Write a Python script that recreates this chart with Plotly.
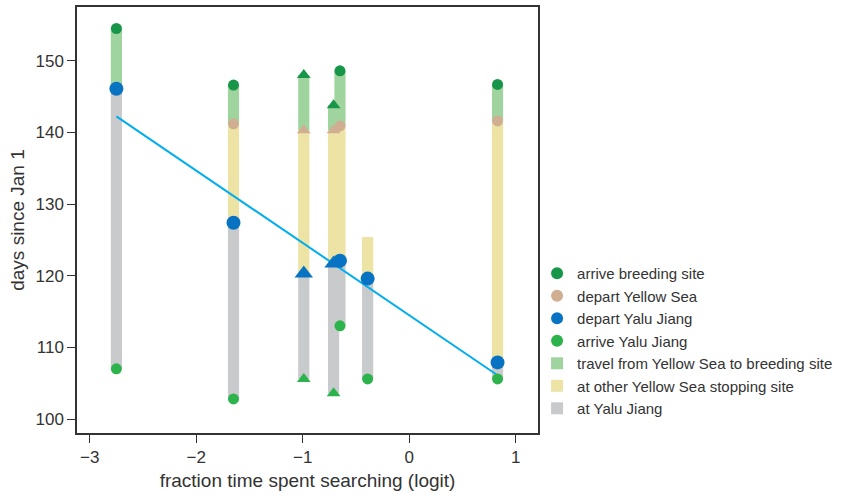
import numpy as np
import plotly.graph_objects as go

# Data
x = [-2.75, -1.65, -0.99, -0.71, -0.65, -0.39, 0.83]
symbols = ["circle", "circle", "triangle-up", "triangle-up", "circle", "circle", "circle"]
arrive_yalu = [107.0, 102.8, 105.6, 103.6, 113.0, 105.6, 105.6]
depart_yalu = [146.1, 127.4, 120.3, 121.7, 122.1, 119.6, 107.9]
depart_ys = [None, 141.2, 140.3, 140.3, 140.9, None, 141.6]
yellow_sea_end = [None, 141.2, 140.3, 140.3, 140.9, 125.4, 141.6]
arrive_breed = [154.5, 146.6, 148.0, 143.8, 148.6, None, 146.7]

C_BREED = "#17964A"
C_DEPYS = "#CFAE92"
C_DEPYALU = "#0873C2"
C_ARRYALU = "#2CB34C"
C_TRAVEL = "#A0D49F"
C_YSEA = "#EDE3A4"
C_YALU = "#C9CACC"
C_LINE = "#00AEEF"
FONT = "Liberation Sans, Arial, sans-serif"
TXT = "#333333"

fig = go.Figure()
W = 0.105

# bars
gx, gb, gh = [], [], []
for xi, a, d in zip(x, arrive_yalu, depart_yalu):
    gx.append(xi); gb.append(a); gh.append(d - a)
yx, yb, yh = [], [], []
for xi, d, e in zip(x, depart_yalu, yellow_sea_end):
    if e is not None:
        yx.append(xi); yb.append(d); yh.append(e - d)
tx, tb, th = [], [], []
for xi, d, s, b in zip(x, depart_yalu, depart_ys, arrive_breed):
    if b is not None:
        base = s if s is not None else d
        tx.append(xi); tb.append(base); th.append(b - base)

def pts(vals):
    xs, ys, ss = [], [], []
    for xi, v, s in zip(x, vals, symbols):
        if v is not None:
            xs.append(xi); ys.append(v); ss.append(s)
    return xs, ys, ss

fig.add_trace(go.Bar(x=tx, y=th, base=tb, width=W, marker=dict(color=C_TRAVEL, line=dict(width=0)),
                     name="travel from Yellow Sea to breeding site", legendrank=5, opacity=1))
fig.add_trace(go.Bar(x=yx, y=yh, base=yb, width=W, marker=dict(color=C_YSEA, line=dict(width=0)),
                     name="at other Yellow Sea stopping site", legendrank=6, opacity=1))
fig.add_trace(go.Bar(x=gx, y=gh, base=gb, width=W, marker=dict(color=C_YALU, line=dict(width=0)),
                     name="at Yalu Jiang", legendrank=7, opacity=1))

# regression line of departure from Yalu Jiang on search fraction
slope, icpt = np.polyfit(x, depart_yalu, 1)
lx = [min(x), max(x)]
fig.add_trace(go.Scatter(x=lx, y=[slope * v + icpt for v in lx], mode="lines",
                         line=dict(color=C_LINE, width=2), showlegend=False, hoverinfo="skip"))

traces = [
    (arrive_breed, "arrive breeding site", C_BREED, 11, 12, 1),
    (depart_ys, "depart Yellow Sea", C_DEPYS, 11, 12, 2),
    (depart_yalu, "depart Yalu Jiang", C_DEPYALU, 14, 16, 3),
    (arrive_yalu, "arrive Yalu Jiang", C_ARRYALU, 11, 12, 4),
]
for vals, name, color, sc, st, rank in traces:
    xs, ys, ss = pts(vals)
    sizes = [st if s.startswith("triangle") else sc for s in ss]
    fig.add_trace(go.Scatter(x=xs, y=ys, mode="markers", name=name, legendrank=rank,
                             marker=dict(color=color, symbol=ss, size=sizes, opacity=1,
                                         line=dict(width=0))))

axis_common = dict(showline=True, linecolor=TXT, linewidth=1.5, mirror=True,
                   ticks="outside", ticklen=8, tickcolor=TXT, tickwidth=1.2,
                   showgrid=False, zeroline=False,
                   tickfont=dict(family=FONT, size=17, color=TXT))

fig.update_layout(
    width=843, height=495,
    margin=dict(l=77, r=305, t=7, b=62, autoexpand=False),
    plot_bgcolor="white", paper_bgcolor="white",
    barmode="overlay",
    font=dict(family=FONT, color=TXT),
    xaxis=dict(range=[-3.12, 1.21], tickvals=[-3, -2, -1, 0, 1],
               ticktext=["\u22123", "\u22122", "\u22121", "0", "1"],
               title=dict(text="fraction time spent searching (logit)",
                          font=dict(family=FONT, size=19, color=TXT), standoff=8),
               automargin=False, **axis_common),
    yaxis=dict(range=[98.05, 157.5], tickvals=[100, 110, 120, 130, 140, 150],
               title=dict(text="days since Jan 1",
                          font=dict(family=FONT, size=19, color=TXT), standoff=6),
               automargin=False, **axis_common),
    legend=dict(x=0.998, y=0.413, xanchor="left", yanchor="top",
                font=dict(family=FONT, size=15, color=TXT),
                itemsizing="constant", traceorder="normal", itemwidth=30,
                bgcolor="rgba(0,0,0,0)"),
    showlegend=True,
)

fig.write_html("out.html", config={"displayModeBar": False},
               post_script="document.body.style.margin='0';")
